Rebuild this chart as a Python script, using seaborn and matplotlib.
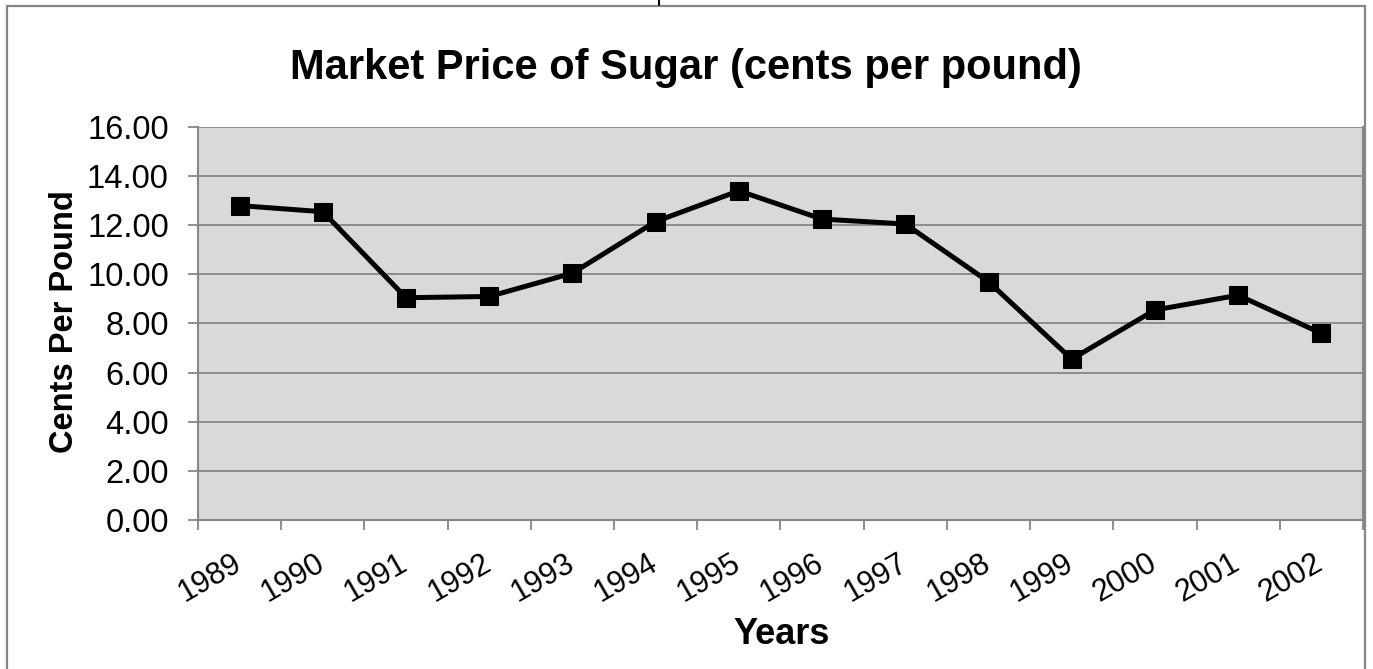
import numpy as np
import pandas as pd
import seaborn as sns
import matplotlib.pyplot as plt
import matplotlib.transforms as mtransforms
from matplotlib.patches import Rectangle
from matplotlib.lines import Line2D

# data
years = ['1989', '1990', '1991', '1992', '1993', '1994', '1995',
         '1996', '1997', '1998', '1999', '2000', '2001', '2002']
price = [12.80, 12.55, 9.05, 9.10, 10.05, 12.15, 13.40,
         12.25, 12.05, 9.70, 6.55, 8.55, 9.15, 7.60]
y_ticks = [0, 2, 4, 6, 8, 10, 12, 14, 16]

df = pd.DataFrame({'Year': years, 'Price': price})

sns.set_style('white')
plt.rcParams['font.family'] = ['Liberation Sans', 'DejaVu Sans']
plt.rcParams['text.color'] = 'black'
plt.rcParams['xtick.labelcolor'] = 'black'
plt.rcParams['ytick.labelcolor'] = 'black'

grey = '#868686'
fig = plt.figure(figsize=(13.73, 6.69), dpi=100)
ax = fig.add_axes([0.1442, 0.2227, 0.9927 - 0.1442, 0.8102 - 0.2227])
ax.set_facecolor('#D9D9D9')

x = np.arange(len(years))
sns.lineplot(x=x, y=df['Price'], ax=ax, color='black', linewidth=3.6,
             marker='s', markersize=13, markeredgecolor='black', zorder=3)

ax.set_xlim(-0.5, len(years) - 0.5)
ax.set_ylim(0, 16)
ax.set_yticks(y_ticks)
ax.set_yticklabels([f'{v:.2f}' for v in y_ticks], fontsize=23.5)
ax.yaxis.grid(True, color=grey, linewidth=1.3)
ax.set_axisbelow(True)

# category boundaries carry the tick marks, centres carry the labels
ax.set_xticks(np.arange(-0.5, len(years), 1.0))
ax.set_xticklabels([])
ax.set_xticks(x, minor=True)
ax.set_xticklabels(years, minor=True, rotation=30, ha='right',
                   rotation_mode='anchor', fontsize=22)
ax.tick_params(axis='x', which='minor', length=0, pad=20)
ax.tick_params(axis='x', which='major', length=7, width=1.3, color=grey,
               direction='out', bottom=True)
ax.tick_params(axis='y', length=7, width=1.3, color=grey, direction='out',
               left=True, pad=14)
shift = mtransforms.ScaledTranslation(-0.08, 0, fig.dpi_scale_trans)
for t in ax.get_xticklabels(minor=True):
    t.set_transform(t.get_transform() + shift)

for side in ['left', 'bottom', 'right']:
    ax.spines[side].set_color(grey)
    ax.spines[side].set_linewidth(1.5)
ax.spines['top'].set_visible(False)

ax.set_xlabel('')
ax.set_ylabel('')
fig.text(0.4997, 0.898, 'Market Price of Sugar (cents per pound)',
         ha='center', va='center', fontsize=30, fontweight='bold')
fig.text(0.5695, 0.051, 'Years', ha='center', va='center',
         fontsize=26, fontweight='bold')
fig.text(0.047, 0.52, 'Cents Per Pound', ha='center', va='center',
         rotation=90, fontsize=23.5, fontweight='bold')

# chart frame
fig.add_artist(Rectangle((7 / 1373, -0.05), (1365 - 7) / 1373, 1 - 6 / 669 + 0.05,
                         transform=fig.transFigure, fill=False,
                         edgecolor=grey, linewidth=1.6))
fig.add_artist(Line2D([659 / 1373, 659 / 1373], [1 - 5 / 669, 1.0],
                      transform=fig.transFigure, color='black', linewidth=1.5))

fig.savefig('out.png', dpi=100)
